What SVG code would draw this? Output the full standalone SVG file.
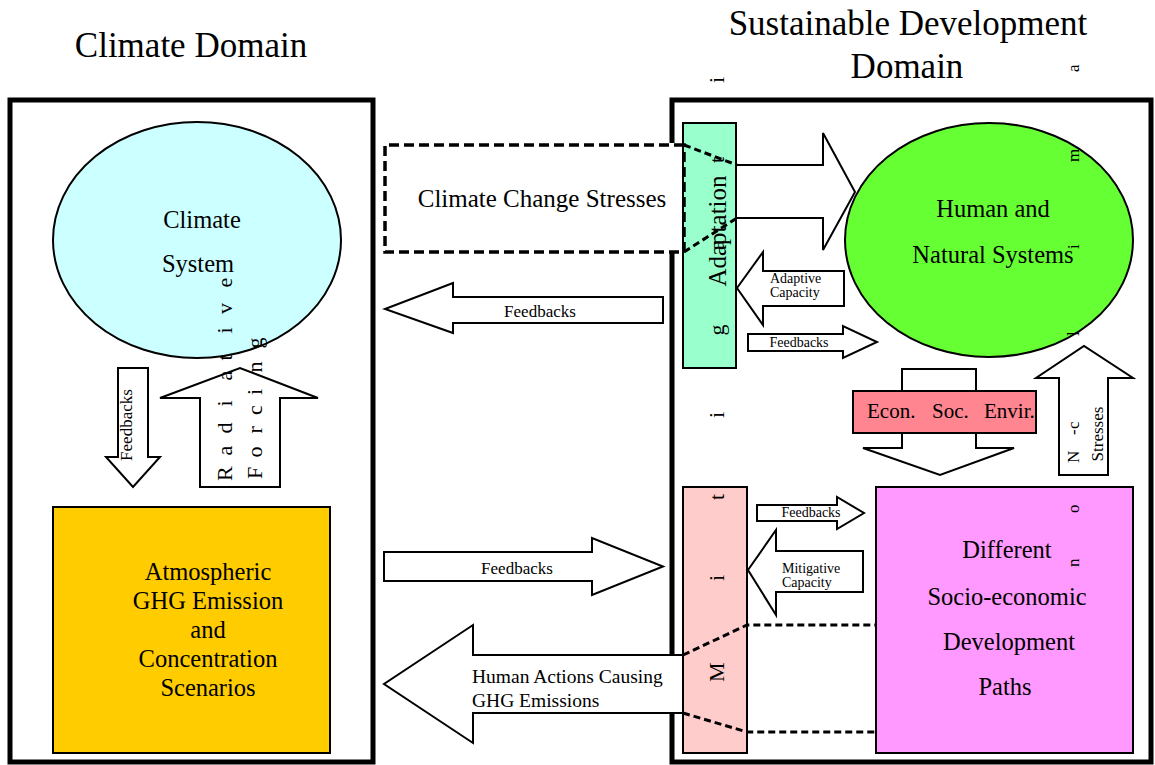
<svg xmlns="http://www.w3.org/2000/svg" width="1155" height="765" viewBox="0 0 1155 765">
<style>
text{font-family:"Liberation Serif","Times New Roman",serif;fill:#000}
.dom{fill:none;stroke:#000;stroke-width:5}
.sh{stroke:#000;stroke-width:2}
.arr{fill:#fff;stroke:#000;stroke-width:2;stroke-linejoin:miter}
.dash{fill:none;stroke:#000;stroke-width:3.5;stroke-dasharray:10 5}
.dd{fill:none;stroke:#000;stroke-width:3;stroke-dasharray:7 4}
.c{text-anchor:middle}
</style>
<rect width="1155" height="765" fill="#fff"/>
<g id="titles">
<text class="c" x="191" y="57" font-size="35">Climate Domain</text>
<text class="c" x="908" y="35" font-size="35">Sustainable Development</text>
<text class="c" x="907" y="78" font-size="35">Domain</text>
</g>
<g id="climate-domain">
<rect class="dom" x="10" y="100" width="363" height="662"/>
</g>
<g id="sd-domain">
<path class="dom" d="M672,143 V100 H1151 V762 H672 V712 M672,657 V252"/>
</g>
<g id="connectors">
<path id="fb-up-left" class="arr" d="M663,297 H453 V283 L385,309 L453,333 V323 H663 Z"/>
<path id="fb-low-right" class="arr" d="M384,552 H592 V538 L663,566.5 L592,595 V581 H384 Z"/>
<path id="human-actions" class="arr" d="M683,655 H473 V625 L384,684 L473,743 V713 H683"/>
<path id="fb-down" class="arr" d="M118,368 H148 V457 H160 L133,487 L106,457 H118 Z"/>
<path id="radiative" class="arr" d="M200,487 V398 H160 L240,368 L318,398 H280 V487 Z"/>
<path id="stress-arrow" class="arr" d="M737,165 H823 V133 L855,192 L823,250 V218 H737"/>
<path id="adaptive-cap" class="arr" d="M737,288 L763,252 V271 H844 V306 H763 V325 Z"/>
<path id="fb-adapt" class="arr" d="M748,334 H843 V326 L877,342 L843,358 V351 H748 Z"/>
<path id="mitigative-cap" class="arr" d="M748,570 L776,530 V551 H863 V592 H776 V615 Z"/>
<path id="fb-mitig" class="arr" d="M757,505 H837 V497 L864,513 L837,529 V521 H757 Z"/>
<path id="econ-arrow" class="arr" d="M902,448 V369 H976 V448 H1014 L940,475 L863,448 H902 Z"/>
<path id="nonc-arrow" class="arr" d="M1059,475 V378 H1036 L1084,346 L1133,378 H1108 V475 Z"/>
</g>
<g id="adaptation-bar">
<rect class="sh" x="683" y="123" width="53" height="245" fill="#99ffcc"/>
<text class="c" font-size="25" transform="translate(726,231) rotate(-90)">Adaptation</text>
</g>
<g id="mitigation-bar">
<rect class="sh" x="683" y="487" width="64" height="266" fill="#ffcccc"/>
</g>
<g id="human-actions-outline">
<path class="dd" d="M683,655 L747,625 H877 M683,713 L747,732 H877"/>
</g>
<g id="stresses">
<path class="dash" d="M684,145 H385 V252 H684 Z"/>
<path class="dd" d="M684,145 L737,165 M684,252 L737,218"/>
<text class="c" x="542" y="207" font-size="25">Climate Change Stresses</text>
</g>
<g id="climate-system">
<ellipse class="sh" cx="197" cy="240" rx="144" ry="118" fill="#ccffff"/>
<text class="c" x="202" y="228" font-size="24.5">Climate</text>
<text class="c" x="198" y="272" font-size="24.5">System</text>
</g>
<g id="human-natural">
<ellipse class="sh" cx="989" cy="240" rx="144" ry="117" fill="#66ff33"/>
<text class="c" x="993" y="217" font-size="24.5">Human and</text>
<text class="c" x="993" y="263" font-size="24.5">Natural Systems</text>
</g>
<g id="econ">
<rect class="sh" x="853" y="391" width="183" height="42" fill="#ff8591"/>
<text x="867" y="418" font-size="21">Econ.</text>
<text x="932" y="418" font-size="21">Soc.</text>
<text x="984" y="418" font-size="21">Envir.</text>
</g>
<g id="atmospheric">
<rect class="sh" x="53" y="507" width="277" height="246" fill="#ffcc00"/>
<text class="c" font-size="24.5"><tspan x="208" y="580">Atmospheric</tspan><tspan x="208" y="609">GHG Emission</tspan><tspan x="208" y="638">and</tspan><tspan x="208" y="667">Concentration</tspan><tspan x="208" y="696">Scenarios</tspan></text>
</g>
<g id="development-paths">
<rect class="sh" x="876" y="487" width="257" height="266" fill="#ff99ff"/>
<text class="c" font-size="24.5"><tspan x="1007" y="558">Different</tspan><tspan x="1007" y="605">Socio-economic</tspan><tspan x="1009" y="650">Development</tspan><tspan x="1005" y="695">Paths</tspan></text>
</g>
<g id="labels">
<text class="c" x="540" y="317" font-size="17">Feedbacks</text>
<text class="c" x="517" y="574" font-size="17">Feedbacks</text>
<text x="472" y="683" font-size="19.5">Human Actions Causing</text>
<text x="472" y="707" font-size="19.5">GHG Emissions</text>
<text class="c" font-size="17" transform="translate(132,425) rotate(-90)">Feedbacks</text>
<text font-size="22" transform="translate(232,481) rotate(-90)" x="0 25.5 47.5 74.5 100.5 120.5 147.5 167 193.5" y="0">Radiative</text>
<text font-size="22" transform="translate(262,479) rotate(-90)" x="0 21.5 45.4 64 84 106.5 130.5" y="0">Forcing</text>
<text x="770" y="283" font-size="14">Adaptive</text>
<text x="770" y="297" font-size="14">Capacity</text>
<text class="c" x="799" y="347" font-size="14">Feedbacks</text>
<text class="c" x="811" y="517" font-size="14">Feedbacks</text>
<text x="782" y="573" font-size="14">Mitigative</text>
<text x="782" y="587" font-size="14">Capacity</text>
<text class="c" font-size="17" transform="translate(1103,434) rotate(-90)">Stresses</text>
<text font-size="17" transform="translate(1079,567) rotate(-90)" x="0 54 104 132 138" y="0">noN-c</text>
<text font-size="17" transform="translate(1079,336) rotate(-90)" x="0 87 174 264" y="0">lima</text>
<text font-size="22" transform="translate(724,682) rotate(-90)" x="0 101 182 264 346.5 432 519 599" y="0">Mitigati</text>
</g>
</svg>
